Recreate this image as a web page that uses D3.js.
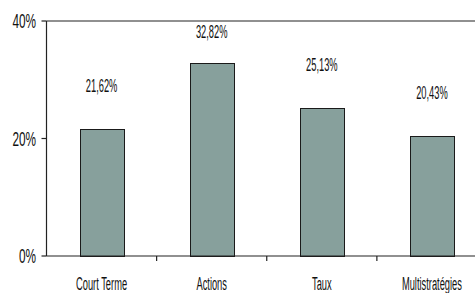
<!DOCTYPE html>
<html>
<head>
<meta charset="utf-8">
<script src="https://cdn.jsdelivr.net/npm/d3@7"></script>
<style>
  body { margin: 0; background: #fff; }
  svg { display: block; }
  text { font-family: "Liberation Sans", Arial, sans-serif; fill: #111; }
</style>
</head>
<body>
<svg width="475" height="293"></svg>
<script>
// fonds - rendement par categorie
var categories = ["Court Terme", "Actions", "Taux", "Multistratégies"];
var values = [21.62, 32.82, 25.13, 20.43];
var valueLabels = ["21,62%", "32,82%", "25,13%", "20,43%"];
var yTicks = [0, 20, 40];
var yTickLabels = ["0%", "20%", "40%"];

var svg = d3.select("svg");
var plotLeft = 46.5, plotTop = 21, plotBottom = 256, plotRight = 487;
var squish = 0.49; // the original text is very narrow

var x = d3.scaleBand().domain(categories).range([plotLeft, plotRight]).paddingInner(0.6).paddingOuter(0.3);
var xCells = d3.scaleBand().domain(categories).range([plotLeft, plotRight]); // for tick marks between cells
var y = d3.scaleLinear().domain([0, 40]).range([plotBottom, plotTop]);

function label(g, tx, ty, txt, anchor, size, sx) {
  g.append("g")
    .attr("transform", "translate(" + tx + "," + ty + ")")
    .append("text")
    .attr("transform", "scale(" + sx + ",1)")
    .attr("text-anchor", anchor)
    .attr("font-size", size)
    .text(txt);
}

// bars
svg.append("g")
  .selectAll("rect")
  .data(values)
  .enter().append("rect")
  .attr("x", function(d, i) { return Math.round(x(categories[i])) + 0.5; })
  .attr("y", function(d) { return Math.round(y(d)) + 0.5; })
  .attr("width", Math.round(x.bandwidth()))
  .attr("height", function(d) { return plotBottom - Math.round(y(d)); })
  .attr("fill", "#87a09c")
  .attr("stroke", "#1a1a1a")
  .attr("stroke-width", 1);

// frame lines
var axes = svg.append("g").attr("stroke", "#222").attr("stroke-width", 1.2).attr("fill", "none");
axes.append("line").attr("x1", plotLeft).attr("x2", plotLeft).attr("y1", plotTop).attr("y2", plotBottom);
axes.append("line").attr("x1", plotLeft).attr("x2", 475).attr("y1", plotTop).attr("y2", plotTop);
axes.append("line").attr("x1", plotLeft).attr("x2", 475).attr("y1", plotBottom).attr("y2", plotBottom);

yTicks.forEach(function(t) {
  axes.append("line").attr("x1", plotLeft - 5).attr("x2", plotLeft).attr("y1", y(t)).attr("y2", y(t));
});
categories.forEach(function(c, i) {
  if (i == 0) return;
  axes.append("line").attr("x1", xCells(c)).attr("x2", xCells(c)).attr("y1", plotBottom).attr("y2", plotBottom + 5);
});

// y labels
var txt = svg.append("g");
yTicks.forEach(function(t, i) {
  label(txt, 36, y(t) + 7, yTickLabels[i], "end", 20, 0.59);
});

// category labels
categories.forEach(function(c) {
  label(txt, x(c) + x.bandwidth() / 2, 290, c, "middle", 19, squish);
});

// value labels, pushed down when they would hit the top line
values.forEach(function(v, i) {
  var ly = Math.max(y(v) - 37, 38);
  label(txt, x(categories[i]) + x.bandwidth() / 2, ly, valueLabels[i], "middle", 19, squish);
});
</script>
</body>
</html>
